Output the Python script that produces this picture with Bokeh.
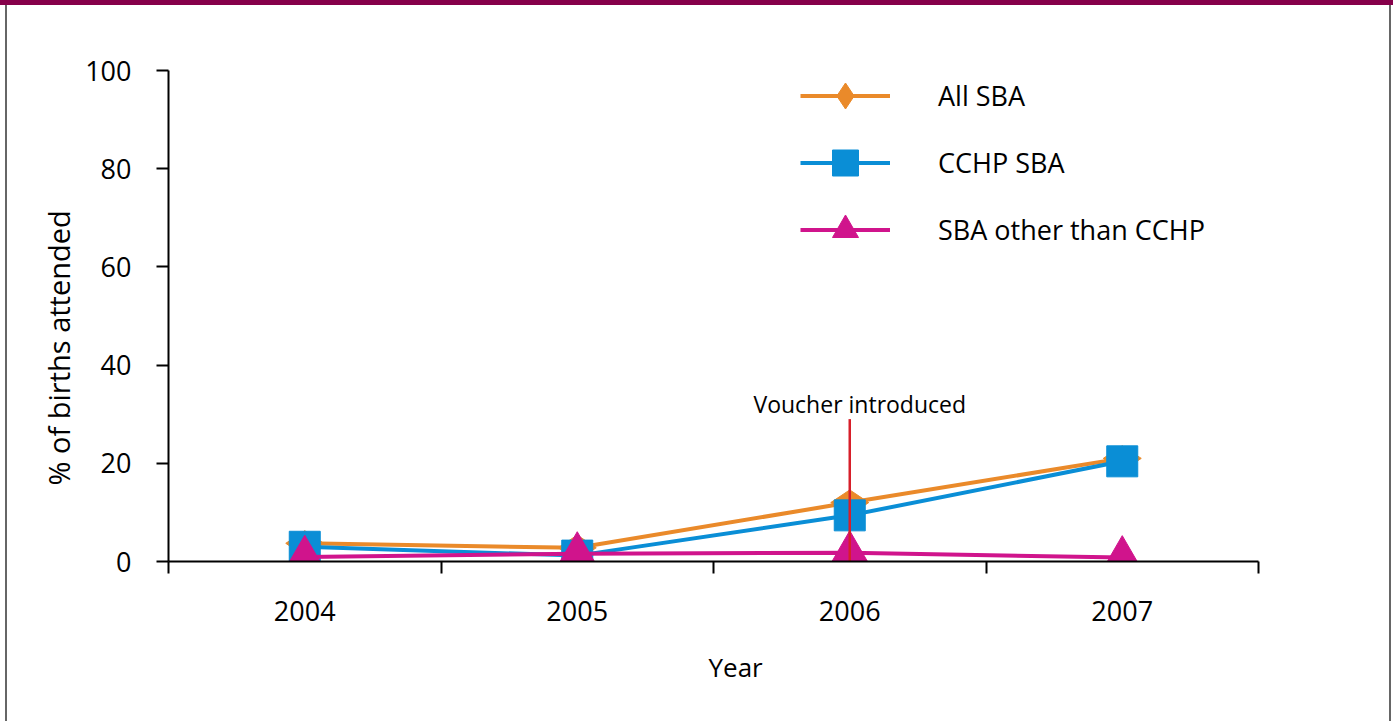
import numpy as np
from bokeh.plotting import figure
from bokeh.models import (Range1d, FixedTicker, Legend, LegendItem, Title,
                          ColumnDataSource)
from bokeh.core.properties import value
from bokeh.embed import file_html
from bokeh.resources import INLINE

# ---- data ----
years = [2004, 2005, 2006, 2007]
all_sba = [3.7, 2.8, 12.0, 21.0]
cchp_sba = [3.0, 1.2, 9.4, 20.4]
other_sba = [0.9, 1.6, 1.8, 0.8]
series_names = ["All SBA", "CCHP SBA", "SBA other than CCHP"]
y_ticks = [0, 20, 40, 60, 80, 100]
voucher_year = 2006
voucher_top = 29
voucher_text = "Voucher introduced"
x_title = "Year"
y_title = "% of births attended"

FONT = "Open Sans"
ORANGE = "#EA8A2A"
BLUE = "#0A8ED6"
MAGENTA = "#D0148C"
RED = "#D71F2A"
MAROON = "#86004A"
GRAY = "#666666"

p = figure(width=1393, height=721, output_backend="svg", toolbar_location=None,
           x_range=Range1d(years[0] - 0.5, years[-1] + 0.5),
           y_range=Range1d(y_ticks[0], y_ticks[-1]),
           min_border_left=168, min_border_right=135,
           min_border_top=70, min_border_bottom=160)
p.styles = {
    "background": (f"linear-gradient({MAROON},{MAROON}) 0 0 / 100% 5px no-repeat, "
                   f"linear-gradient({GRAY},{GRAY}) 5px 0 / 2px 100% no-repeat, "
                   f"linear-gradient({GRAY},{GRAY}) 1389px 0 / 2px 100% no-repeat, "
                   "white"),
}
p.outline_line_color = None
p.background_fill_color = "white"
p.border_fill_color = None
p.xgrid.visible = False
p.ygrid.visible = False

# x axis: labels at years, ticks at boundaries (minor ticks)
xa = p.xaxis[0]
xa.ticker = FixedTicker(ticks=years,
                        minor_ticks=[y - 0.5 for y in years] + [years[-1] + 0.5])
xa.major_tick_out = 0
xa.major_tick_in = 0
xa.minor_tick_out = 12
xa.minor_tick_in = 0
xa.minor_tick_line_color = "black"
xa.minor_tick_line_width = 2
xa.axis_line_width = 2
xa.axis_line_color = "black"
xa.major_label_standoff = 27
xa.major_label_text_font = FONT
xa.major_label_text_font_size = "27px"
xa.major_label_text_color = "black"

ya = p.yaxis[0]
ya.ticker = FixedTicker(ticks=y_ticks, minor_ticks=[])
ya.major_tick_out = 12
ya.major_tick_in = 0
ya.major_tick_line_width = 2
ya.major_tick_line_color = "black"
ya.axis_line_width = 2
ya.axis_line_color = "black"
ya.major_label_standoff = 25
ya.major_label_text_font = FONT
ya.major_label_text_font_size = "27px"
ya.major_label_text_color = "black"

src = ColumnDataSource(dict(x=years, a=all_sba, c=cchp_sba, o=other_sba))

l1 = p.line("x", "a", source=src, line_color=ORANGE, line_width=4)
m1 = p.scatter("x", "a", source=src, marker="diamond", angle=np.pi / 2, size=38,
               fill_color=ORANGE, line_color=ORANGE)
l2 = p.line("x", "c", source=src, line_color=BLUE, line_width=4)
m2 = p.scatter("x", "c", source=src, marker="square", size=31,
               fill_color=BLUE, line_color=BLUE)
l3 = p.line("x", "o", source=src, line_color=MAGENTA, line_width=4)
m3 = p.scatter("x", "o", source=src, marker="triangle", size=38,
               fill_color=MAGENTA, line_color=MAGENTA)

# voucher marker line
p.segment(x0=[voucher_year], y0=[0], x1=[voucher_year], y1=[voucher_top],
          line_color=RED, line_width=2.5)
p.text(x=[voucher_year], y=[voucher_top + 3], text=[voucher_text],
       x_offset=10, text_align="center", text_baseline="middle",
       text_font=value(FONT), text_font_size="23px", text_color="black")

legend = Legend(items=[
    LegendItem(label=series_names[0], renderers=[l1, m1]),
    LegendItem(label=series_names[1], renderers=[l2, m2]),
    LegendItem(label=series_names[2], renderers=[l3, m3]),
], location=(632, 299), glyph_width=90, glyph_height=65, spacing=2,
   label_standoff=48, padding=0, margin=0, border_line_color=None,
   background_fill_alpha=0, label_text_font=FONT, label_text_font_size="27px",
   label_text_color="black")
p.add_layout(legend, "center")

# axis titles
p.add_layout(Title(text=x_title, align="left", offset=540, standoff=46,
                   text_font=FONT, text_font_size="26px", text_font_style="normal",
                   text_color="black"), "below")
p.add_layout(Title(text=y_title, align="left", offset=76, standoff=10,
                   text_font=FONT, text_font_size="29px", text_font_style="normal",
                   text_color="black"), "left")

open("out.html", "w").write(file_html(p, INLINE))
